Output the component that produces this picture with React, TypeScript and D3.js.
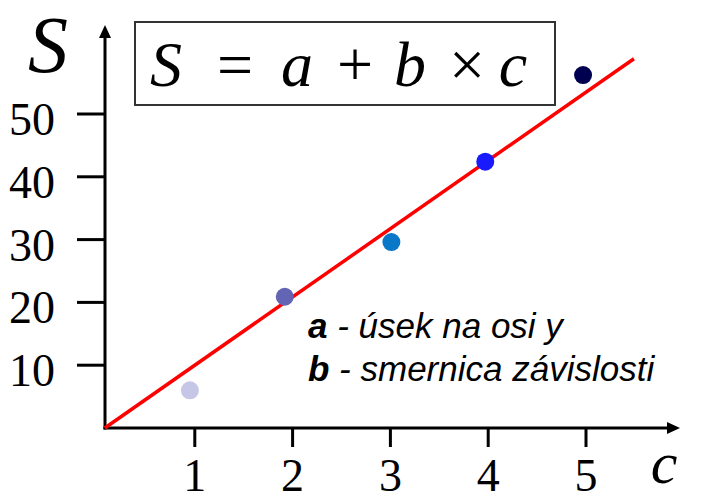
import React from "react";
import * as d3 from "d3";

const cValues = [0.95, 1.92, 3.01, 3.97, 4.97];
const sValues = [6.0, 20.9, 29.6, 42.4, 56.2];
const pointColors = ["#c6c6e6", "#6464b4", "#0a78c8", "#1a1aff", "#000050"];
const xTicks = [1, 2, 3, 4, 5];
const yTicks = [10, 20, 30, 40, 50];
const fitLine = [
  [0.08, 0],
  [5.49, 58.8],
];
const noteLines = [
  { key: "a", text: " - úsek na osi y" },
  { key: "b", text: " - smernica závislosti" },
];

export default function App() {
  const W = 704;
  const H = 503;
  const x = d3.scaleLinear().domain([0, 5]).range([97, 586]);
  const y = d3.scaleLinear().domain([0, 50]).range([428, 114]);
  const axisX = 105;
  const axisY = 428;
  const line = d3
    .line<number[]>()
    .x((d) => x(d[0]))
    .y((d) => y(d[1]));
  const serif = "'Liberation Serif', 'Times New Roman', serif";
  const sans = "'Liberation Sans', Arial, sans-serif";
  const eq = [
    { t: "S", cx: 166, it: true },
    { t: "=", cx: 235, it: false },
    { t: "a", cx: 297, it: true },
    { t: "+", cx: 355, it: false },
    { t: "b", cx: 410, it: true },
    { t: "×", cx: 467, it: false },
    { t: "c", cx: 513, it: true },
  ];
  return (
    <svg
      width={W}
      height={H}
      style={{ position: "absolute", left: 0, top: 0, background: "#fff" }}
    >
      {/* axes */}
      <line x1={axisX} y1={axisY + 1.5} x2={axisX} y2={36} stroke="#000" strokeWidth={3} />
      <path d={`M${axisX},25 L${axisX - 6},38 L${axisX + 6},38 Z`} fill="#000" />
      <line x1={axisX - 1.5} y1={axisY} x2={670} y2={axisY} stroke="#000" strokeWidth={3} />
      <path d={`M680,${axisY} L667,${axisY - 6} L667,${axisY + 6} Z`} fill="#000" />

      {yTicks.map((t) => (
        <g key={"y" + t}>
          <line x1={77} x2={axisX} y1={y(t)} y2={y(t)} stroke="#000" strokeWidth={3} />
          <text
            x={55}
            y={y(t) + 21}
            textAnchor="end"
            fontFamily={serif}
            fontSize={46}
            fill="#000"
          >
            {t}
          </text>
        </g>
      ))}
      {xTicks.map((t) => (
        <g key={"x" + t}>
          <line x1={x(t)} x2={x(t)} y1={axisY} y2={447} stroke="#000" strokeWidth={3} />
          <text
            x={x(t)}
            y={491}
            textAnchor="middle"
            fontFamily={serif}
            fontSize={46}
            fill="#000"
          >
            {t}
          </text>
        </g>
      ))}

      {/* axis titles */}
      <text x={48} y={72} textAnchor="middle" fontFamily={serif} fontStyle="italic" fontSize={80} fill="#000">
        S
      </text>
      <text x={664} y={483} textAnchor="middle" fontFamily={serif} fontStyle="italic" fontSize={60} fill="#000">
        c
      </text>

      {/* equation box */}
      <rect x={135} y={22} width={420} height={83} fill="#fff" stroke="#333" strokeWidth={2} />
      {eq.map((e, i) => (
        <text
          key={i}
          x={e.cx}
          y={86}
          textAnchor="middle"
          fontFamily={serif}
          fontStyle={e.it ? "italic" : "normal"}
          fontSize={64}
          fill="#000"
        >
          {e.t}
        </text>
      ))}

      {/* fit line */}
      <path d={line(fitLine) || ""} stroke="#ff0000" strokeWidth={3.5} fill="none" />

      {/* points */}
      {cValues.map((c, i) => (
        <circle key={i} cx={x(c)} cy={y(sValues[i])} r={9} fill={pointColors[i]} />
      ))}

      {/* notes */}
      {noteLines.map((n, i) => (
        <text
          key={n.key}
          x={308}
          y={338 + i * 43}
          fontFamily={sans}
          fontStyle="italic"
          fontSize={35}
          fill="#000"
        >
          <tspan fontWeight="bold">{n.key}</tspan>
          <tspan>{n.text}</tspan>
        </text>
      ))}
    </svg>
  );
}
